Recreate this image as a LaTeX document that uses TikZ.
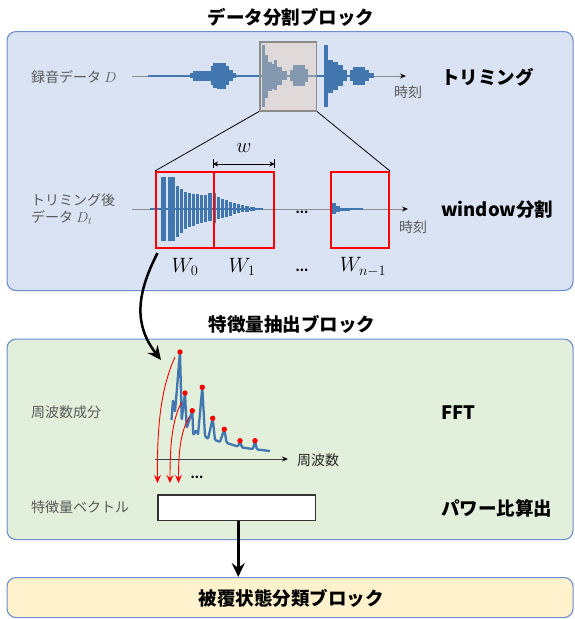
\documentclass[tikz,border=0pt]{standalone}
\usepackage[no-math]{fontspec}
\setmainfont{Noto Sans CJK JP}
\usetikzlibrary{arrows.meta}
\definecolor{bluefill}{RGB}{218,227,243}
\definecolor{greenfill}{RGB}{226,239,218}
\definecolor{yellowfill}{RGB}{255,242,204}
\definecolor{boxborder}{RGB}{108,142,207}
\definecolor{wave}{RGB}{65,119,174}
\definecolor{labelgray}{RGB}{89,89,89}
\definecolor{axisgray}{RGB}{140,140,140}
\definecolor{trimfill}{RGB}{233,202,178}
\begin{document}
\begin{tikzpicture}[x=1pt,y=-1pt,
  panel/.style={draw=boxborder, line width=1.1pt, rounded corners=9pt, anchor=north west, inner sep=0pt},
  heading/.style={font=\fontsize{18.5}{20}\selectfont\bfseries, inner sep=0pt},
  lbl/.style={font=\fontsize{14}{17}\selectfont, text=labelgray, inner sep=0pt, anchor=west},
  axisline/.style={draw=axisgray, line width=1pt, -{Stealth[length=6pt,width=5pt,black]}},
  redbox/.style={draw=red, line width=2pt, anchor=north west, inner sep=0pt},
  mathlbl/.style={font=\fontsize{20}{24}\selectfont, inner sep=0pt},
  bigarrow/.style={line width=2.5pt, -{Stealth[length=14pt,width=13pt,inset=5pt]}},
  redarrow/.style={draw=red, line width=0.9pt, -{Stealth[length=8pt,width=7pt,inset=3pt]}},
]
\useasboundingbox (0,0) rectangle (574,619);

% ---------- panels ----------
\node[panel, fill=bluefill, minimum width=566pt, minimum height=259pt] (split) at (6.5,31) {};
\node[panel, fill=greenfill, minimum width=566pt, minimum height=200.5pt] (feat) at (6.5,338.5) {};
\node[panel, fill=yellowfill, minimum width=566pt, minimum height=40pt,
      font=\fontsize{18.5}{20}\selectfont\bfseries] (cls) at (6.5,577) {};
\node[heading] (clstxt) at (291,598) {被覆状態分類ブロック};

% ---------- titles ----------
\node[heading] (t1) at (291,17) {データ分割ブロック};
\node[heading] (t2) at (292,324) {特徴量抽出ブロック};

% ---------- right-hand headings ----------
\node[heading, anchor=west] (h1) at (441,77) {トリミング};
\node[heading, anchor=west] (h2) at (441,210) {window分割};
\node[heading, anchor=west] (h3) at (441,413) {FFT};
\node[heading, anchor=west] (h4) at (441,508) {パワー比算出};

% ---------- left labels ----------
\node[lbl] (l1) at (31,77) {録音データ $D$};
\node[lbl, align=left] (l2) at (31,209) {トリミング後\\データ $D_t$};
\node[lbl] (l3) at (31,412) {周波数成分};
\node[lbl] (l4) at (31,507) {特徴量ベクトル};

% ---------- top axis and recording waveform ----------
\coordinate (a1s) at (132,76);
\coordinate (a1e) at (406,76);
\draw[axisline] (a1s) -- (a1e);
\node[lbl] (time1) at (394,92) {時刻};
\draw[wave, line width=2pt] (148,76) -- (374,76);
\foreach \a/\b/\c/\d in {
  190/193/73/78, 193/211/70.5/80.5, 211/213/66/85, 213/217/63/88, 217/221/62.5/89,
  221/226/63/88.5, 226/229/66/85, 229/233/70/81, 233/236/73/78,
  261.5/265/44.5/107, 265/268/55/98, 268/272/62/91, 272/274/64/89, 274/277/60/90,
  277/282/67/85, 282/287/71/80, 290/293/70/81, 293/305/65/86, 305/308/69/82,
  324/328/45/107, 328/333/60/93, 333/338/62/90, 338/343/65/86, 343/347/70/81,
  350/353/70/81, 353/365/67/85, 365/369/70/81, 369/374/73/78}
  \fill[wave] (\a,\c) rectangle (\b,\d);

% trimming window
\node[draw={rgb,255:red,140;green,140;blue,140}, line width=1.5pt, fill=trimfill, fill opacity=0.4,
      minimum width=56.5pt, minimum height=69pt, anchor=north west, inner sep=0pt] (trimbox) at (259,41) {};

% ---------- second axis and trimmed waveform ----------
\coordinate (a2s) at (132,209);
\coordinate (a2e) at (408,209);
\draw[axisline] (a2s) -- (a2e);
\node[lbl] (time2) at (399,227) {時刻};
\draw[wave, line width=2pt] (150,209) -- (263,209);
\foreach \a/\b/\c/\d in {
  160.5/167/176.5/241, 167.8/175.5/176.5/241, 175.5/180/186/236.5, 180/184/189/233,
  184/188/192/229, 188/192/193/227, 192/196/194/226, 196/200/194/224, 200/204/195/223,
  204/208/195/222, 208/212.5/193/221, 213/217/193/223, 217/221/197/219, 221/225/199/218,
  225/229/200/217, 229/233/202/216, 233/237/203/214, 237/241/204/213, 241/245/205/212,
  245/250/206/211.5, 250/256/207/211, 256/263/208/210}
  \fill[wave] (\a,\c) rectangle ({\b-0.7},\d);
\foreach \a/\b/\c/\d in {331/336/203/214, 336/340/206/212, 340/350/207.5/210.5, 350/363/208/210}
  \fill[wave] (\a,\c) rectangle (\b,\d);
\node[font=\bfseries\fontsize{12}{12}\selectfont, inner sep=0pt] (dots1) at (302,212) {...};

% windows
\node[redbox, minimum width=58pt, minimum height=75.5pt] (w0) at (155,171) {};
\node[redbox, minimum width=59.5pt, minimum height=75.5pt] (w1) at (213,171) {};
\node[redbox, minimum width=58pt, minimum height=75.5pt] (wn) at (330,171) {};

\draw[line width=0.8pt] (trimbox.south west) -- (w0.north west);
\draw[line width=0.8pt] (trimbox.south east) -- (wn.north east);

% window width dimension
\draw[line width=0.8pt] ([yshift=12pt]w1.north west) -- ([yshift=3pt]w1.north west);
\draw[line width=0.8pt] ([yshift=12pt]w1.north east) -- ([yshift=3pt]w1.north east);
\draw[line width=0.8pt, {Stealth[length=5pt,width=5pt]}-{Stealth[length=5pt,width=5pt]}]
  ([yshift=7pt]w1.north west) -- ([yshift=7pt]w1.north east);
\node[mathlbl] (wlab) at (244,148) {$w$};

\node[mathlbl] (lw0) at (185,267) {$W_0$};
\node[mathlbl] (lw1) at (242,267) {$W_1$};
\node[font=\bfseries\fontsize{12}{12}\selectfont, inner sep=0pt] (dots2) at (302,270) {...};
\node[mathlbl] (lwn) at (363,267) {$W_{n-1}$};

% ---------- arrow to FFT ----------
\coordinate (c1) at (157.5,253);
\coordinate (c2) at (161,360);
\draw[bigarrow] (c1) .. controls (136,295) and (134,325) .. (c2);

% ---------- spectrum ----------
\coordinate (a3s) at (155,459);
\coordinate (a3e) at (288,459);
\draw[draw=black!75, line width=1pt, -{Stealth[length=6pt,width=5pt,black]}] (a3s) -- (a3e);
\node[font=\fontsize{14}{17}\selectfont, text=black!85, inner sep=0pt, anchor=west] (freq) at (297,460) {周波数};
\draw[wave, line width=2.3pt, line join=round, rounded corners=1pt]
  (171.5,420) -- (173,400) -- (175,412) -- (180,352) -- (181.7,420) -- (185,393) -- (186.7,428)
  -- (192.3,410.7) -- (193.3,435) -- (196.7,430) -- (198,435) -- (202.3,387.3) -- (205,436)
  -- (208,439) -- (212.7,418.3) -- (215,440) -- (220,442) -- (224.3,429.3) -- (226.7,443)
  -- (238,446.5) -- (240,441) -- (242,447.5) -- (253,449) -- (255,441) -- (257,449.5) -- (270,451);
\foreach \px/\py in {180/352, 185/393, 192.3/410.7, 202.3/387.3, 212.7/418.3, 224.3/429.3, 240/440.7, 255/440.7}
  \fill[red] (\px,\py) circle (2.7pt);

% red arrows
\coordinate (r1s) at (175,357);   \coordinate (r1e) at (157.5,483);
\coordinate (r2s) at (181.7,402); \coordinate (r2e) at (170,483);
\coordinate (r3s) at (189.3,417); \coordinate (r3e) at (178.5,483);
\draw[redarrow] (r1s) .. controls (160,390) and (157,430) .. (r1e);
\draw[redarrow] (r2s) .. controls (172,420) and (170,445) .. (r2e);
\draw[redarrow] (r3s) .. controls (180,432) and (178.5,455) .. (r3e);
\node[font=\bfseries\fontsize{12}{12}\selectfont, inner sep=0pt] (dots3) at (197,477) {...};

% feature vector
\node[draw=black!80, line width=1.2pt, fill=white, minimum width=157.7pt, minimum height=25.7pt,
      anchor=north west, inner sep=0pt] (vec) at (157.3,494.3) {};
\draw[bigarrow] ([xshift=1.5pt]vec.south) -- ([xshift=1.5pt]vec.south |- cls.north);

\end{tikzpicture}
\end{document}
